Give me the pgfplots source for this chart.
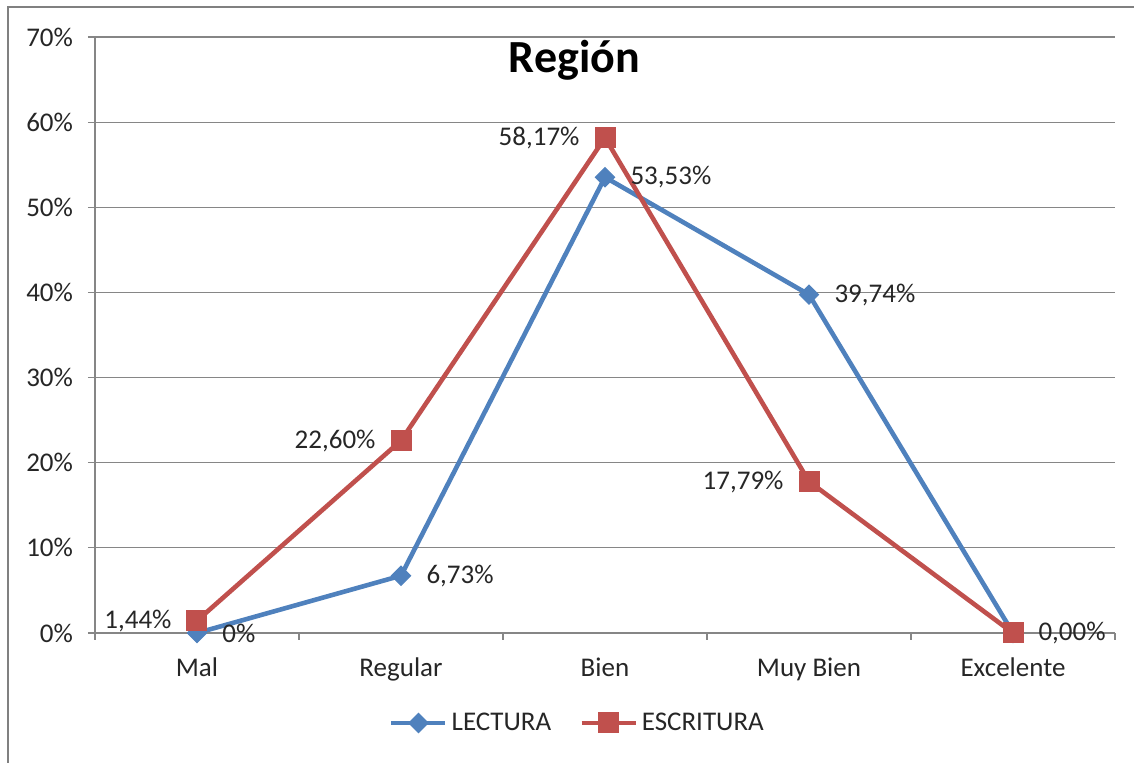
\documentclass[border=0pt]{standalone}
\usepackage{pgfplots}
\pgfplotsset{compat=1.18}
\usepackage{fontspec}
\setmainfont{Carlito}

\definecolor{lecblue}{RGB}{79,129,189}
\definecolor{escred}{RGB}{192,80,77}
\definecolor{axgray}{RGB}{134,134,134}
\definecolor{framegray}{RGB}{128,128,128}

\begin{document}
\begin{tikzpicture}
\begin{axis}[
    name=main,
    at={(0,0)}, anchor=south west,
    scale only axis,
    width=510pt, height=298pt,
    xmin=-0.5, xmax=4.5,
    ymin=0, ymax=70,
    xtick={0,1,2,3,4},
    xticklabels={Mal,Regular,Bien,Muy Bien,Excelente},
    minor xtick={-0.5,0.5,1.5,2.5,3.5,4.5},
    ytick={0,10,20,30,40,50,60,70},
    yticklabels={0\%,10\%,20\%,30\%,40\%,50\%,60\%,70\%},
    /pgf/number format/assume math mode=true,
    tick label style={font=\fontsize{13.5}{16}\selectfont, text=black!85},
    xticklabel style={yshift=-5.5pt},
    yticklabel style={xshift=-4pt},
    xtick style={draw=none},
    minor x tick style={draw=axgray, line width=0.6pt},
    minor tick length=3.5pt,
    ytick style={draw=axgray, line width=0.6pt},
    major tick length=3.5pt,
    tick align=outside,
    axis x line*=bottom,
    axis y line*=left,
    axis line style={draw=axgray, line width=0.6pt, -},
    ymajorgrids=true,
    grid style={draw=axgray, line width=0.6pt},
    title={Región},
    title style={at={(0.47,0.94)}, anchor=center, font=\bfseries\fontsize{23}{28}\selectfont},
    legend columns=2,
    legend style={at={(0.474,-0.151)}, anchor=center, draw=none, fill=none,
        font=\fontsize{13.5}{16}\selectfont, text=black!85,
        /tikz/every even column/.append style={column sep=12pt}},
    legend image code/.code={\draw[mark repeat=2, mark phase=2, #1] plot coordinates {(0pt,0pt) (13.5pt,0pt) (27pt,0pt)};},
    nodes near coords,
    point meta=explicit symbolic,
    every node near coord/.append style={font=\fontsize{13.5}{16}\selectfont, text=black!85, inner sep=0pt},
]

% LECTURA
\addplot[color=lecblue, line width=2.3pt, mark=square*, mark size=3.4pt,
    mark options={rotate=45, fill=lecblue, draw=lecblue, line width=0.5pt},
    nodes near coords style={anchor=west, xshift=12.5pt, rotate=0}]
    coordinates {
    (0,0) [0\%]
    (1,6.73) [6,73\%]
    (2,53.53) [53,53\%]
    (3,39.74) [39,74\%]
    (4,0) [0,00\%]
    };
\addlegendentry{LECTURA}

% ESCRITURA
\addplot[color=escred, line width=2.3pt, mark=square*, mark size=5pt,
    mark options={fill=escred, draw=escred, line width=0.5pt},
    nodes near coords style={anchor=east, xshift=-12.5pt}]
    coordinates {
    (0,1.44) [1,44\%]
    (1,22.60) [22,60\%]
    (2,58.17) [58,17\%]
    (3,17.79) [17,79\%]
    (4,0) []
    };
\addlegendentry{ESCRITURA}

\end{axis}
\pgfresetboundingbox
\path[use as bounding box] (-47.5pt,-65pt) rectangle (519.5pt,316.5pt);
\draw[framegray, line width=1.3pt] (-43.5pt,-70pt) -- (-43.5pt,313pt) -- (525pt,313pt);
\end{tikzpicture}
\end{document}
